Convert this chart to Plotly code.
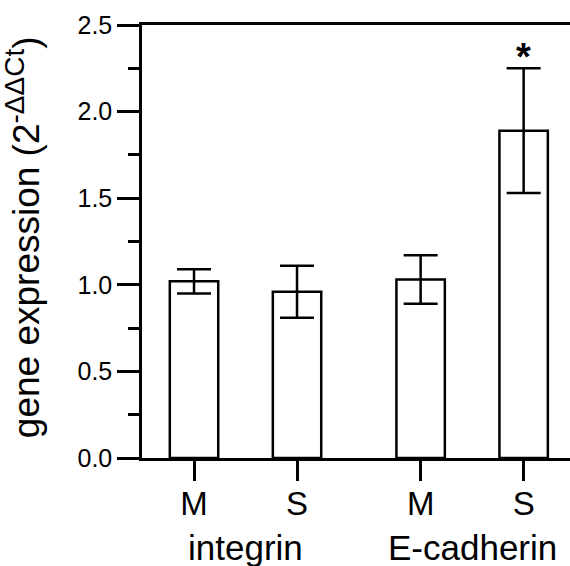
import plotly.graph_objects as go

# Data
groups = ["integrin", "E-cadherin"]
conditions = ["M", "S", "M", "S"]
means = [1.02, 0.96, 1.03, 1.89]
errors = [0.07, 0.15, 0.14, 0.36]
significant = [False, False, False, True]
ytick_vals = [0.0, 0.5, 1.0, 1.5, 2.0, 2.5]

# Layout arrangement (bar slots, with a wider gap between gene groups)
xpos = [1.0, 2.0, 3.2, 4.2]
group_centers = [(xpos[0] + xpos[1]) / 2, (xpos[2] + xpos[3]) / 2]

FONT = "Liberation Sans, Arial, sans-serif"
LW = 2.5

fig = go.Figure()
fig.add_trace(go.Bar(
    x=xpos, y=means, width=0.47,
    marker=dict(color="white", line=dict(color="black", width=LW)),
    error_y=dict(type="data", array=errors, visible=True,
                 color="black", thickness=LW, width=17),
    showlegend=False,
))

annotations = []
for g, cx in zip(groups, group_centers):
    annotations.append(dict(
        x=cx, y=-0.2067, xref="x", yref="paper", text=g, showarrow=False,
        font=dict(family=FONT, size=35, color="black"),
        xanchor="center", yanchor="middle",
    ))
for x, m, e, s in zip(xpos, means, errors, significant):
    if s:
        annotations.append(dict(
            x=x, y=m + e, xref="x", yref="y", text="<b>*</b>", showarrow=False,
            font=dict(family=FONT, size=38, color="black"),
            xanchor="center", yanchor="bottom", yshift=-12,
        ))
annotations.append(dict(
    x=-0.278, y=0.51, xref="paper", yref="paper",
    text="gene expression (2<sup><span style='font-size:28px'>-ΔΔCt</span></sup>)",
    showarrow=False,
    textangle=-90, font=dict(family=FONT, size=37, color="black"),
    xanchor="center", yanchor="middle",
))

fig.update_layout(
    width=570, height=566,
    margin=dict(l=142, r=0, t=25, b=108),
    paper_bgcolor="white", plot_bgcolor="white",
    font=dict(family=FONT, color="black"),
    annotations=annotations,
    xaxis=dict(
        range=[0.495, 4.65], tickmode="array", tickvals=xpos, ticktext=conditions,
        showline=True, linecolor="black", linewidth=LW, mirror=True,
        ticks="outside", ticklen=20, tickwidth=LW, tickcolor="black",
        tickfont=dict(family=FONT, size=33, color="black"),
        ticklabelstandoff=-5,
        showgrid=False, zeroline=False,
    ),
    yaxis=dict(
        range=[0, 2.5], tickmode="array", tickvals=ytick_vals, tickformat=".1f",
        showline=True, linecolor="black", linewidth=LW,
        ticks="outside", ticklen=22, tickwidth=LW, tickcolor="black",
        tickfont=dict(family=FONT, size=25, color="black"),
        minor=dict(dtick=0.25, ticks="outside", ticklen=11, tickwidth=LW, tickcolor="black"),
        showgrid=False, zeroline=False,
    ),
)

fig.write_html("out.html", config={"displayModeBar": False},
               post_script="document.body.style.margin='0';")
